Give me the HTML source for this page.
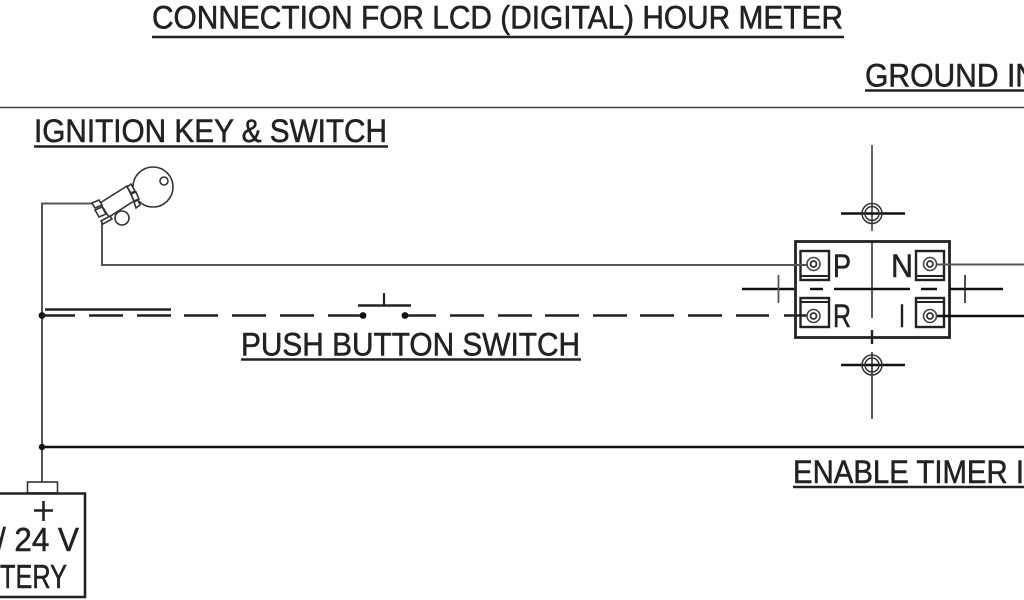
<!DOCTYPE html>
<html>
<head>
<meta charset="utf-8">
<style>
html,body{margin:0;padding:0;background:#fff;width:1024px;height:600px;overflow:hidden}
svg{display:block}
text{font-family:"Liberation Sans",sans-serif;fill:#222;font-size:32px;stroke:#222;stroke-width:.55px}
</style>
</head>
<body>
<svg width="1024" height="600" viewBox="0 0 1024 600" xmlns="http://www.w3.org/2000/svg">
<rect width="1024" height="600" fill="#fff"/>

<!-- headings -->
<text x="152" y="28.5" textLength="691" lengthAdjust="spacingAndGlyphs">CONNECTION FOR LCD (DIGITAL) HOUR METER</text>
<line x1="152" y1="37" x2="844" y2="37" stroke="#222" stroke-width="2.4"/>
<text x="865" y="86.5" textLength="172" lengthAdjust="spacingAndGlyphs">GROUND IN</text>
<line x1="865" y1="90.5" x2="1024" y2="90.5" stroke="#222" stroke-width="2.4"/>
<line x1="0" y1="107.5" x2="1024" y2="107.5" stroke="#444" stroke-width="1.6"/>
<text x="34" y="142" textLength="353" lengthAdjust="spacingAndGlyphs">IGNITION KEY &amp; SWITCH</text>
<line x1="34" y1="146.5" x2="388" y2="146.5" stroke="#222" stroke-width="2.4"/>
<text x="241" y="355.5" textLength="339" lengthAdjust="spacingAndGlyphs">PUSH BUTTON SWITCH</text>
<line x1="241" y1="359.5" x2="581" y2="359.5" stroke="#222" stroke-width="2.4"/>
<text x="793" y="483" textLength="231" lengthAdjust="spacingAndGlyphs">ENABLE TIMER I</text>
<line x1="793" y1="487" x2="1024" y2="487" stroke="#222" stroke-width="2.4"/>

<!-- wires -->
<polyline points="92,203.5 42,203.5 42,482" fill="none" stroke="#555" stroke-width="2"/>
<polyline points="102,223 102,265 813,265" fill="none" stroke="#555" stroke-width="2"/>
<line x1="42" y1="447" x2="1024" y2="447" stroke="#111" stroke-width="2.6"/>
<circle cx="42" cy="447" r="3.2" fill="#111"/>
<circle cx="42" cy="315.5" r="3.4" fill="#111"/>

<!-- key switch -->
<g fill="none" stroke="#333" stroke-width="1.6">
  <circle cx="153" cy="187" r="20" fill="#fff"/>
  <circle cx="164" cy="181" r="4"/>
  <polygon points="100,203 127,186 134,201 109,217" fill="#fff"/>
  <polygon points="92,203 99,200 102,205 95,208" fill="#fff"/>
  <polygon points="95,210 102,207 106,214 99,217" fill="#fff"/>
  <polygon points="101,221 110,216 112,219 103,224" fill="#fff"/>
  <polygon points="127,187 131,184 135,191 131,193" fill="#fff"/>
  <polygon points="131,194 136,192 139,199 134,201" fill="#fff"/>
  <polygon points="134,202 138,200 140,205 136,208" fill="#fff"/>
  <circle cx="122" cy="218" r="7" fill="#fff"/>
</g>

<!-- dashed lines -->
<line x1="45" y1="309.5" x2="171" y2="309.5" stroke="#222" stroke-width="2.6"/>
<g stroke="#222" stroke-width="2.6">
  <line x1="42" y1="315.5" x2="75" y2="315.5"/>
  <line x1="89" y1="315.5" x2="123" y2="315.5"/>
  <line x1="137" y1="315.5" x2="171" y2="315.5"/>
  <line x1="184" y1="315.5" x2="218" y2="315.5"/>
  <line x1="232" y1="315.5" x2="266" y2="315.5"/>
  <line x1="280" y1="315.5" x2="314" y2="315.5"/>
  <line x1="328" y1="315.5" x2="363" y2="315.5"/>
  <line x1="405" y1="315.5" x2="436" y2="315.5"/>
  <line x1="450" y1="315.5" x2="484" y2="315.5"/>
  <line x1="498" y1="315.5" x2="532" y2="315.5"/>
  <line x1="545" y1="315.5" x2="579" y2="315.5"/>
  <line x1="593" y1="315.5" x2="627" y2="315.5"/>
  <line x1="640" y1="315.5" x2="674" y2="315.5"/>
  <line x1="688" y1="315.5" x2="722" y2="315.5"/>
  <line x1="736" y1="315.5" x2="769" y2="315.5"/>
</g>

<!-- push button -->
<circle cx="363" cy="315.5" r="3.4" fill="#111"/>
<circle cx="405" cy="315.5" r="3.4" fill="#111"/>
<line x1="358" y1="305.5" x2="411" y2="305.5" stroke="#222" stroke-width="2.4"/>
<line x1="384" y1="293" x2="384" y2="305" stroke="#222" stroke-width="2.2"/>

<!-- terminal block -->
<rect x="795.5" y="241.5" width="154" height="96" fill="none" stroke="#222" stroke-width="2.8"/>
<g stroke="#222" stroke-width="1.5">
  <line x1="872" y1="145" x2="872" y2="231" stroke="#555" stroke-width="1.8"/>
  <line x1="872" y1="242" x2="872" y2="318"/>
  <line x1="872" y1="330" x2="872" y2="344" stroke-width="2.4"/>
  <line x1="872" y1="352" x2="872" y2="419"/>
</g>
<g stroke="#111" stroke-width="2.5">
  <line x1="841" y1="213.5" x2="905" y2="213.5"/>
  <line x1="841" y1="365" x2="905" y2="365"/>
  <line x1="742" y1="289" x2="794" y2="289"/>
  <line x1="810" y1="289" x2="823" y2="289"/>
  <line x1="834" y1="289" x2="910" y2="289"/>
  <line x1="921" y1="289" x2="937" y2="289"/>
  <line x1="950" y1="289" x2="1003" y2="289"/>
</g>
<line x1="778.5" y1="275" x2="778.5" y2="303" stroke="#555" stroke-width="1.8"/>
<line x1="965" y1="275" x2="965" y2="303" stroke="#222" stroke-width="1.6"/>
<g fill="none" stroke="#333" stroke-width="1.5">
  <circle cx="872" cy="213.5" r="10"/><circle cx="872" cy="213.5" r="7"/>
  <circle cx="872" cy="365" r="10"/><circle cx="872" cy="365" r="7"/>
</g>

<!-- terminals -->
<g fill="#fff" stroke="#222" stroke-width="2.4">
  <rect x="800.5" y="251" width="28.5" height="29"/>
  <rect x="916" y="251" width="28" height="29"/>
  <rect x="800.5" y="298" width="28.5" height="29"/>
  <rect x="916" y="298" width="28" height="29"/>
</g>
<g stroke="#222" stroke-width="2">
  <line x1="800" y1="276" x2="829" y2="276"/>
  <line x1="916" y1="276" x2="944" y2="276"/>
  <line x1="800" y1="302" x2="829" y2="302"/>
  <line x1="916" y1="302" x2="944" y2="302"/>
</g>
<line x1="730" y1="265" x2="813" y2="265" stroke="#555" stroke-width="2"/>
<line x1="930" y1="264.5" x2="1024" y2="264.5" stroke="#555" stroke-width="2"/>
<line x1="784" y1="315.5" x2="813" y2="315.5" stroke="#222" stroke-width="2.6"/>
<line x1="930" y1="316" x2="1024" y2="316" stroke="#111" stroke-width="2.6"/>
<g fill="#fff" stroke="#444" stroke-width="1.6">
  <circle cx="813.5" cy="264" r="6.5"/>
  <circle cx="930" cy="264" r="6.5"/>
  <circle cx="813.5" cy="316" r="6.5"/>
  <circle cx="930" cy="316" r="6.5"/>
</g>
<g fill="none" stroke="#333" stroke-width="1.8">
  <circle cx="813.5" cy="264" r="3"/>
  <circle cx="930" cy="264" r="3"/>
  <circle cx="813.5" cy="316" r="3"/>
  <circle cx="930" cy="316" r="3"/>
</g>
<text x="833" y="277" style="font-size:32px" textLength="18" lengthAdjust="spacingAndGlyphs">P</text>
<text x="891" y="277" style="font-size:32px" textLength="22" lengthAdjust="spacingAndGlyphs">N</text>
<text x="833" y="327" style="font-size:32px" textLength="18" lengthAdjust="spacingAndGlyphs">R</text>
<text x="899" y="327" style="font-size:32px" textLength="6" lengthAdjust="spacingAndGlyphs">I</text>

<!-- battery -->
<rect x="27.5" y="482" width="30" height="11" fill="#fff" stroke="#333" stroke-width="1.6"/>
<polyline points="0,493.5 85,493.5 85,597 0,597" fill="#fff" stroke="#222" stroke-width="2.6"/>
<line x1="34" y1="510.5" x2="53" y2="510.5" stroke="#222" stroke-width="2.6"/>
<line x1="43.5" y1="501" x2="43.5" y2="521" stroke="#222" stroke-width="2.6"/>
<text x="-3" y="551" style="font-size:33px" textLength="82" lengthAdjust="spacingAndGlyphs">/ 24 V</text>
<text x="0" y="588" style="font-size:33px" textLength="67" lengthAdjust="spacingAndGlyphs">TERY</text>
</svg>
</body>
</html>
